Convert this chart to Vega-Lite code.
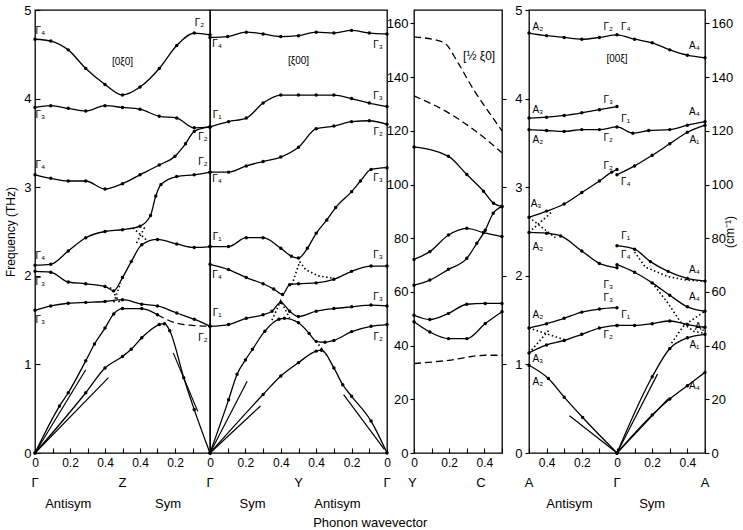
{
  "$schema": "https://vega.github.io/schema/vega-lite/v6.json",
  "padding": {"left": 4, "top": 3, "right": 2, "bottom": 2},
  "background": "white",
  "title": {"text": "Phonon wavevector", "orient": "bottom", "anchor": "middle", "fontSize": 13, "fontWeight": "normal", "offset": 6},
  "config": {
    "font": "Liberation Sans, Arial, sans-serif",
    "view": {"stroke": "#000", "strokeWidth": 1.3},
    "axis": {"domain": false, "grid": false, "tickColor": "#000", "labelColor": "#000", "labelFontSize": 12, "titleColor": "#000", "titleFontSize": 12, "titleFontWeight": "normal", "labelFlush": false, "labelOverlap": false, "tickWidth": 1.1},
    "text": {"fontSize": 10, "color": "#000"},
    "line": {"color": "#000"},
    "rule": {"color": "#000"},
    "point": {"color": "#000", "filled": true, "size": 12, "opacity": 1}
  },
  "datasets": {
    "p1": [
      {"k":"r","f":0,"f2":4.33},{"k":"r","f":4.48,"f2":5},
      {"b":"A","k":"s","q":0,"f":4.67},{"b":"A","k":"s","q":0.09,"f":4.65},{"b":"A","k":"s","q":0.19,"f":4.55},{"b":"A","k":"s","q":0.29,"f":4.34},{"b":"A","k":"s","q":0.40,"f":4.16},{"b":"A","k":"s","q":0.50,"f":4.04},{"b":"A","k":"s","q":0.60,"f":4.13},{"b":"A","k":"s","q":0.71,"f":4.34},{"b":"A","k":"s","q":0.81,"f":4.60},{"b":"A","k":"s","q":0.91,"f":4.74},{"b":"A","k":"s","q":1.0,"f":4.72},
      {"b":"B","k":"s","q":0,"f":3.90},{"b":"B","k":"s","q":0.09,"f":3.92},{"b":"B","k":"s","q":0.19,"f":3.89},{"b":"B","k":"s","q":0.29,"f":3.86},{"b":"B","k":"s","q":0.40,"f":3.92},{"b":"B","k":"s","q":0.50,"f":3.90},{"b":"B","k":"s","q":0.60,"f":3.88},{"b":"B","k":"s","q":0.71,"f":3.80},{"b":"B","k":"s","q":0.81,"f":3.78},{"b":"B","k":"s","q":0.91,"f":3.67},{"b":"B","k":"s","q":1.0,"f":3.68},
      {"b":"C","k":"s","q":0,"f":3.14},{"b":"C","k":"s","q":0.09,"f":3.10},{"b":"C","k":"s","q":0.19,"f":3.07},{"b":"C","k":"s","q":0.29,"f":3.07},{"b":"C","k":"s","q":0.40,"f":2.98},{"b":"C","k":"s","q":0.50,"f":3.04},{"b":"C","k":"s","q":0.60,"f":3.14},{"b":"C","k":"s","q":0.71,"f":3.25},{"b":"C","k":"s","q":0.80,"f":3.35},{"b":"C","k":"s","q":0.86,"f":3.49},{"b":"C","k":"s","q":0.91,"f":3.63},{"b":"C","k":"s","q":1.0,"f":3.68},
      {"b":"D","k":"s","q":0,"f":2.12},{"b":"D","k":"s","q":0.09,"f":2.13},{"b":"D","k":"s","q":0.19,"f":2.28},{"b":"D","k":"s","q":0.29,"f":2.43},{"b":"D","k":"s","q":0.40,"f":2.50},{"b":"D","k":"s","q":0.50,"f":2.52},{"b":"D","k":"s","q":0.60,"f":2.56},{"b":"D","k":"s","q":0.66,"f":2.68},{"b":"D","k":"s","q":0.69,"f":2.90},{"b":"D","k":"s","q":0.72,"f":3.03},{"b":"D","k":"s","q":0.81,"f":3.12},{"b":"D","k":"s","q":0.91,"f":3.14},{"b":"D","k":"s","q":1.0,"f":3.17},
      {"b":"E","k":"s","q":0,"f":2.05},{"b":"E","k":"s","q":0.09,"f":2.04},{"b":"E","k":"s","q":0.19,"f":1.93},{"b":"E","k":"s","q":0.29,"f":1.91},{"b":"E","k":"s","q":0.40,"f":1.88},{"b":"E","k":"s","q":0.45,"f":1.83},{"b":"E","k":"s","q":0.50,"f":1.98},{"b":"E","k":"s","q":0.55,"f":2.16},{"b":"E","k":"s","q":0.61,"f":2.35},{"b":"E","k":"s","q":0.70,"f":2.41},{"b":"E","k":"s","q":0.81,"f":2.36},{"b":"E","k":"s","q":0.91,"f":2.32},{"b":"E","k":"s","q":1.0,"f":2.33},
      {"b":"F","k":"s","q":0,"f":1.61},{"b":"F","k":"s","q":0.09,"f":1.66},{"b":"F","k":"s","q":0.19,"f":1.69},{"b":"F","k":"s","q":0.29,"f":1.70},{"b":"F","k":"s","q":0.40,"f":1.71},{"b":"F","k":"s","q":0.50,"f":1.73},{"b":"F","k":"s","q":0.61,"f":1.68},{"b":"F","k":"s","q":0.70,"f":1.66},{"b":"F","k":"s","q":0.81,"f":1.58},{"b":"F","k":"s","q":0.91,"f":1.51},{"b":"F","k":"s","q":1.0,"f":1.43},
      {"b":"G","k":"s","q":0,"f":0},{"b":"G","k":"s","q":0.14,"f":0.53},{"b":"G","k":"s","q":0.19,"f":0.68},{"b":"G","k":"s","q":0.29,"f":1.04},{"b":"G","k":"s","q":0.34,"f":1.23},{"b":"G","k":"s","q":0.40,"f":1.41},{"b":"G","k":"s","q":0.45,"f":1.57},{"b":"G","k":"s","q":0.50,"f":1.63},{"b":"G","k":"s","q":0.61,"f":1.63},{"b":"G","k":"s","q":0.70,"f":1.56},
      {"b":"G2","k":"d","q":0.70,"f":1.56},{"b":"G2","k":"d","q":0.80,"f":1.47},{"b":"G2","k":"d","q":0.90,"f":1.44},{"b":"G2","k":"d","q":1.0,"f":1.43},
      {"b":"H","k":"s","q":0,"f":0},{"b":"H","k":"s","q":0.29,"f":0.68},{"b":"H","k":"s","q":0.40,"f":0.96},{"b":"H","k":"s","q":0.50,"f":1.09},{"b":"H","k":"s","q":0.55,"f":1.17},{"b":"H","k":"s","q":0.61,"f":1.30},{"b":"H","k":"s","q":0.71,"f":1.45},{"b":"H","k":"s","q":0.74,"f":1.46},{"b":"H","k":"s","q":0.77,"f":1.38},{"b":"H","k":"s","q":0.85,"f":0.85},{"b":"H","k":"s","q":0.91,"f":0.49},{"b":"H","k":"s","q":1.0,"f":0},
      {"b":"o1","k":"o","q":0.56,"f":2.54},{"b":"o1","k":"o","q":0.64,"f":2.40},
      {"b":"o2","k":"o","q":0.58,"f":2.37},{"b":"o2","k":"o","q":0.63,"f":2.56},
      {"b":"o3","k":"o","q":0.43,"f":1.87},{"b":"o3","k":"o","q":0.49,"f":1.68},
      {"b":"o4","k":"o","q":0.45,"f":1.70},{"b":"o4","k":"o","q":0.49,"f":1.92},
      {"b":"v1","k":"v","q":0,"f":0},{"b":"v1","k":"v","q":0.29,"f":0.94},
      {"b":"v2","k":"v","q":0,"f":0},{"b":"v2","k":"v","q":0.42,"f":0.85},
      {"b":"v3","k":"v","q":0.79,"f":1.13},{"b":"v3","k":"v","q":0.93,"f":0.47}
    ],
    "p1t": [
      {"t":"Γ₄","q":0.03,"f":4.76},{"t":"Γ₂","q":0.94,"f":4.85},{"t":"Γ₃","q":0.03,"f":3.82},{"t":"Γ₂","q":0.96,"f":3.57},{"t":"Γ₄","q":0.03,"f":3.25},{"t":"Γ₂","q":0.96,"f":3.29},{"t":"Γ₄","q":0.03,"f":2.22},{"t":"Γ₃","q":0.03,"f":1.93},{"t":"Γ₃","q":0.03,"f":1.50},{"t":"Γ₂","q":0.96,"f":1.30},{"t":"[0ξ0]","q":0.5,"f":4.41}
    ],
    "p1x": [{"t":"Γ","q":0,"f":-0.34},{"t":"Z","q":0.5,"f":-0.34},{"t":"Antisym","q":0.19,"f":-0.57},{"t":"Sym","q":0.76,"f":-0.57}],
    "p2": [
      {"k":"r","f":0,"f2":4.22},{"k":"r","f":4.57,"f2":5},
      {"b":"T","k":"s","q":0,"f":4.69},{"b":"T","k":"s","q":0.10,"f":4.70},{"b":"T","k":"s","q":0.205,"f":4.75},{"b":"T","k":"s","q":0.30,"f":4.73},{"b":"T","k":"s","q":0.40,"f":4.70},{"b":"T","k":"s","q":0.50,"f":4.71},{"b":"T","k":"s","q":0.60,"f":4.75},{"b":"T","k":"s","q":0.70,"f":4.74},{"b":"T","k":"s","q":0.80,"f":4.77},{"b":"T","k":"s","q":0.90,"f":4.74},{"b":"T","k":"s","q":1.0,"f":4.73},
      {"b":"U","k":"s","q":0,"f":3.68},{"b":"U","k":"s","q":0.105,"f":3.74},{"b":"U","k":"s","q":0.205,"f":3.78},{"b":"U","k":"s","q":0.30,"f":3.95},{"b":"U","k":"s","q":0.40,"f":4.04},{"b":"U","k":"s","q":0.50,"f":4.04},{"b":"U","k":"s","q":0.60,"f":4.04},{"b":"U","k":"s","q":0.70,"f":4.04},{"b":"U","k":"s","q":0.80,"f":4.00},{"b":"U","k":"s","q":0.90,"f":3.95},{"b":"U","k":"s","q":1.0,"f":3.91},
      {"b":"V","k":"s","q":0,"f":3.17},{"b":"V","k":"s","q":0.105,"f":3.17},{"b":"V","k":"s","q":0.205,"f":3.24},{"b":"V","k":"s","q":0.30,"f":3.29},{"b":"V","k":"s","q":0.40,"f":3.34},{"b":"V","k":"s","q":0.50,"f":3.45},{"b":"V","k":"s","q":0.60,"f":3.66},{"b":"V","k":"s","q":0.70,"f":3.69},{"b":"V","k":"s","q":0.80,"f":3.74},{"b":"V","k":"s","q":0.90,"f":3.75},{"b":"V","k":"s","q":1.0,"f":3.71},
      {"b":"W","k":"s","q":0,"f":2.33},{"b":"W","k":"s","q":0.105,"f":2.33},{"b":"W","k":"s","q":0.205,"f":2.43},{"b":"W","k":"s","q":0.30,"f":2.43},{"b":"W","k":"s","q":0.40,"f":2.31},{"b":"W","k":"s","q":0.46,"f":2.22},{"b":"W","k":"s","q":0.50,"f":2.20},{"b":"W","k":"s","q":0.55,"f":2.31},{"b":"W","k":"s","q":0.60,"f":2.48},{"b":"W","k":"s","q":0.66,"f":2.63},{"b":"W","k":"s","q":0.71,"f":2.77},{"b":"W","k":"s","q":0.80,"f":2.95},{"b":"W","k":"s","q":0.85,"f":3.07},{"b":"W","k":"s","q":0.91,"f":3.20},{"b":"W","k":"s","q":1.0,"f":3.22},
      {"b":"X","k":"s","q":0,"f":2.13},{"b":"X","k":"s","q":0.105,"f":2.07},{"b":"X","k":"s","q":0.205,"f":1.98},{"b":"X","k":"s","q":0.30,"f":1.91},{"b":"X","k":"s","q":0.36,"f":1.85},{"b":"X","k":"s","q":0.41,"f":1.79},{"b":"X","k":"s","q":0.45,"f":1.90},{"b":"X","k":"s","q":0.50,"f":1.91},{"b":"X","k":"s","q":0.60,"f":1.92},{"b":"X","k":"s","q":0.70,"f":1.96},{"b":"X","k":"s","q":0.80,"f":2.05},{"b":"X","k":"s","q":0.91,"f":2.11},{"b":"X","k":"s","q":1.0,"f":2.11},
      {"b":"Y","k":"s","q":0,"f":1.43},{"b":"Y","k":"s","q":0.105,"f":1.45},{"b":"Y","k":"s","q":0.205,"f":1.52},{"b":"Y","k":"s","q":0.30,"f":1.56},{"b":"Y","k":"s","q":0.35,"f":1.60},{"b":"Y","k":"s","q":0.40,"f":1.70},{"b":"Y","k":"s","q":0.45,"f":1.60},{"b":"Y","k":"s","q":0.50,"f":1.54},{"b":"Y","k":"s","q":0.60,"f":1.60},{"b":"Y","k":"s","q":0.70,"f":1.63},{"b":"Y","k":"s","q":0.80,"f":1.65},{"b":"Y","k":"s","q":0.91,"f":1.67},{"b":"Y","k":"s","q":1.0,"f":1.66},
      {"b":"L","k":"s","q":0,"f":0},{"b":"L","k":"s","q":0.105,"f":0.60},{"b":"L","k":"s","q":0.153,"f":0.89},{"b":"L","k":"s","q":0.20,"f":1.05},{"b":"L","k":"s","q":0.24,"f":1.17},{"b":"L","k":"s","q":0.31,"f":1.375},{"b":"L","k":"s","q":0.39,"f":1.51},{"b":"L","k":"s","q":0.42,"f":1.52},{"b":"L","k":"s","q":0.50,"f":1.47},{"b":"L","k":"s","q":0.56,"f":1.35},{"b":"L","k":"s","q":0.60,"f":1.26},{"b":"L","k":"s","q":0.65,"f":1.25},{"b":"L","k":"s","q":0.70,"f":1.27},{"b":"L","k":"s","q":0.80,"f":1.37},{"b":"L","k":"s","q":0.91,"f":1.43},{"b":"L","k":"s","q":1.0,"f":1.45},
      {"b":"M","k":"s","q":0,"f":0},{"b":"M","k":"s","q":0.30,"f":0.66},{"b":"M","k":"s","q":0.40,"f":0.87},{"b":"M","k":"s","q":0.50,"f":1.02},{"b":"M","k":"s","q":0.60,"f":1.15},{"b":"M","k":"s","q":0.63,"f":1.16},{"b":"M","k":"s","q":0.70,"f":0.96},{"b":"M","k":"s","q":0.75,"f":0.77},{"b":"M","k":"s","q":0.80,"f":0.64},{"b":"M","k":"s","q":0.91,"f":0.36},{"b":"M","k":"s","q":1.0,"f":0},
      {"b":"o1","k":"o","q":0.463,"f":1.90},{"b":"o1","k":"o","q":0.507,"f":2.16},
      {"b":"o2","k":"o","q":0.507,"f":2.16},{"b":"o2","k":"o","q":0.54,"f":2.07},{"b":"o2","k":"o","q":0.61,"f":2.00},{"b":"o2","k":"o","q":0.70,"f":1.97},
      {"b":"o3","k":"o","q":0.35,"f":1.50},{"b":"o3","k":"o","q":0.40,"f":1.72},{"b":"o3","k":"o","q":0.45,"f":1.52},
      {"b":"o4","k":"o","q":0.60,"f":1.26},{"b":"o4","k":"o","q":0.66,"f":1.10},
      {"b":"v1","k":"v","q":0,"f":0},{"b":"v1","k":"v","q":0.21,"f":0.81},
      {"b":"v2","k":"v","q":0,"f":0},{"b":"v2","k":"v","q":0.285,"f":0.53},
      {"b":"v3","k":"v","q":0.755,"f":0.66},{"b":"v3","k":"v","q":0.985,"f":0.04}
    ],
    "p2t": [
      {"t":"Γ₄","q":0.04,"f":4.62},{"t":"Γ₃","q":0.95,"f":4.60},{"t":"Γ₁","q":0.04,"f":3.81},{"t":"Γ₃","q":0.95,"f":4.03},{"t":"Γ₂","q":0.95,"f":3.62},{"t":"Γ₄","q":0.04,"f":3.09},{"t":"Γ₃","q":0.95,"f":3.10},{"t":"Γ₁","q":0.04,"f":2.44},{"t":"Γ₃","q":0.95,"f":2.24},{"t":"Γ₄","q":0.04,"f":2.01},{"t":"Γ₃","q":0.95,"f":1.76},{"t":"Γ₁","q":0.04,"f":1.58},{"t":"Γ₂","q":0.95,"f":1.31},{"t":"[ξ00]","q":0.5,"f":4.43}
    ],
    "p2x": [{"t":"Γ","q":0,"f":-0.34},{"t":"Y","q":0.5,"f":-0.34},{"t":"Γ","q":1,"f":-0.34},{"t":"Sym","q":0.24,"f":-0.57},{"t":"Antisym","q":0.72,"f":-0.57}],
    "p3": [
      {"b":"a","k":"d","q":0,"f":155},{"b":"a","k":"d","q":0.167,"f":153},{"b":"a","k":"d","q":0.253,"f":145},{"b":"a","k":"d","q":0.338,"f":135.4},{"b":"a","k":"d","q":0.414,"f":128},{"b":"a","k":"d","q":0.5,"f":120},
      {"b":"b","k":"d","q":0,"f":133},{"b":"b","k":"d","q":0.196,"f":126.7},{"b":"b","k":"d","q":0.338,"f":120.5},{"b":"b","k":"d","q":0.5,"f":111.8},
      {"b":"c","k":"s","q":0,"f":114},{"b":"c","k":"s","q":0.196,"f":110.5},{"b":"c","k":"s","q":0.30,"f":103.7},{"b":"c","k":"s","q":0.395,"f":97.5},{"b":"c","k":"s","q":0.452,"f":93},{"b":"c","k":"s","q":0.5,"f":91.8},
      {"b":"d","k":"s","q":0,"f":72.1},{"b":"d","k":"s","q":0.09,"f":75},{"b":"d","k":"s","q":0.196,"f":81.2},{"b":"d","k":"s","q":0.30,"f":83.7},{"b":"d","k":"s","q":0.395,"f":82.1},{"b":"d","k":"s","q":0.5,"f":80.6},
      {"b":"e","k":"s","q":0,"f":62.5},{"b":"e","k":"s","q":0.09,"f":64.4},{"b":"e","k":"s","q":0.196,"f":68.4},{"b":"e","k":"s","q":0.30,"f":72.5},{"b":"e","k":"s","q":0.357,"f":78.1},{"b":"e","k":"s","q":0.405,"f":83},{"b":"e","k":"s","q":0.45,"f":89.3},{"b":"e","k":"s","q":0.5,"f":91.8},
      {"b":"f","k":"s","q":0,"f":51.3},{"b":"f","k":"s","q":0.09,"f":49.7},{"b":"f","k":"s","q":0.196,"f":52},{"b":"f","k":"s","q":0.30,"f":55.4},{"b":"f","k":"s","q":0.405,"f":55.7},{"b":"f","k":"s","q":0.5,"f":55.7},
      {"b":"g","k":"s","q":0,"f":48.9},{"b":"g","k":"s","q":0.09,"f":45.1},{"b":"g","k":"s","q":0.196,"f":42.6},{"b":"g","k":"s","q":0.30,"f":42.6},{"b":"g","k":"s","q":0.405,"f":48.2},{"b":"g","k":"s","q":0.5,"f":52.6},
      {"b":"h","k":"d","q":0,"f":33.3},{"b":"h","k":"d","q":0.196,"f":34.5},{"b":"h","k":"d","q":0.405,"f":36.4},{"b":"h","k":"d","q":0.5,"f":36.4}
    ],
    "p3t": [{"t":"[½ ξ0]","q":0.37,"f":148}],
    "p3x": [{"t":"Y","q":-0.01,"f":-11.2},{"t":"C","q":0.38,"f":-11.2}],
    "p4": [
      {"k":"r","f":0,"f2":4.22},{"k":"r","f":4.62,"f2":5},
      {"b":"T","k":"s","q":-0.5,"f":4.74},{"b":"T","k":"s","q":-0.4,"f":4.71},{"b":"T","k":"s","q":-0.3,"f":4.69},{"b":"T","k":"s","q":-0.2,"f":4.67},{"b":"T","k":"s","q":-0.1,"f":4.69},{"b":"T","k":"s","q":0,"f":4.72},{"b":"T","k":"s","q":0.1,"f":4.67},{"b":"T","k":"s","q":0.2,"f":4.63},{"b":"T","k":"s","q":0.3,"f":4.55},{"b":"T","k":"s","q":0.4,"f":4.49},{"b":"T","k":"s","q":0.5,"f":4.46},
      {"b":"P","k":"s","q":-0.5,"f":3.78},{"b":"P","k":"s","q":-0.4,"f":3.79},{"b":"P","k":"s","q":-0.3,"f":3.81},{"b":"P","k":"s","q":-0.2,"f":3.84},{"b":"P","k":"s","q":-0.1,"f":3.875},{"b":"P","k":"s","q":0,"f":3.91},
      {"b":"Q","k":"s","q":-0.5,"f":3.65},{"b":"Q","k":"s","q":-0.4,"f":3.64},{"b":"Q","k":"s","q":-0.3,"f":3.63},{"b":"Q","k":"s","q":-0.2,"f":3.65},{"b":"Q","k":"s","q":-0.1,"f":3.65},{"b":"Q","k":"s","q":0,"f":3.68},{"b":"Q","k":"s","q":0.09,"f":3.61},{"b":"Q","k":"s","q":0.18,"f":3.64},{"b":"Q","k":"s","q":0.30,"f":3.65},{"b":"Q","k":"s","q":0.40,"f":3.70},{"b":"Q","k":"s","q":0.5,"f":3.74},
      {"b":"R","k":"s","q":-0.5,"f":2.66},{"b":"R","k":"s","q":-0.4,"f":2.73},{"b":"R","k":"s","q":-0.3,"f":2.81},{"b":"R","k":"s","q":-0.2,"f":2.94},{"b":"R","k":"s","q":-0.1,"f":3.07},{"b":"R","k":"s","q":-0.03,"f":3.17},{"b":"R","k":"s","q":0,"f":3.20},
      {"b":"S","k":"s","q":0,"f":3.14},{"b":"S","k":"s","q":0.1,"f":3.24},{"b":"S","k":"s","q":0.2,"f":3.36},{"b":"S","k":"s","q":0.3,"f":3.49},{"b":"S","k":"s","q":0.4,"f":3.62},{"b":"S","k":"s","q":0.5,"f":3.70},
      {"b":"U","k":"s","q":-0.5,"f":2.49},{"b":"U","k":"s","q":-0.4,"f":2.48},{"b":"U","k":"s","q":-0.32,"f":2.45},{"b":"U","k":"s","q":-0.2,"f":2.28},{"b":"U","k":"s","q":-0.1,"f":2.14},{"b":"U","k":"s","q":0,"f":2.09},
      {"b":"V","k":"s","q":0,"f":2.34},{"b":"V","k":"s","q":0.1,"f":2.30},{"b":"V","k":"s","q":0.19,"f":2.16},{"b":"V","k":"s","q":0.29,"f":2.05},{"b":"V","k":"s","q":0.4,"f":1.97},{"b":"V","k":"s","q":0.5,"f":1.94},
      {"b":"W","k":"s","q":0,"f":2.125},{"b":"W","k":"s","q":0.1,"f":2.04},{"b":"W","k":"s","q":0.2,"f":1.92},{"b":"W","k":"s","q":0.3,"f":1.78},{"b":"W","k":"s","q":0.4,"f":1.65},{"b":"W","k":"s","q":0.5,"f":1.60},
      {"b":"X","k":"s","q":-0.5,"f":1.41},{"b":"X","k":"s","q":-0.4,"f":1.46},{"b":"X","k":"s","q":-0.3,"f":1.52},{"b":"X","k":"s","q":-0.2,"f":1.59},{"b":"X","k":"s","q":-0.1,"f":1.625},{"b":"X","k":"s","q":0,"f":1.64},
      {"b":"Y","k":"s","q":-0.5,"f":1.13},{"b":"Y","k":"s","q":-0.4,"f":1.22},{"b":"Y","k":"s","q":-0.3,"f":1.27},{"b":"Y","k":"s","q":-0.2,"f":1.34},{"b":"Y","k":"s","q":-0.1,"f":1.41},{"b":"Y","k":"s","q":0,"f":1.44},
      {"b":"Z","k":"s","q":0,"f":1.44},{"b":"Z","k":"s","q":0.1,"f":1.44},{"b":"Z","k":"s","q":0.2,"f":1.46},{"b":"Z","k":"s","q":0.3,"f":1.49},{"b":"Z","k":"s","q":0.4,"f":1.45},{"b":"Z","k":"s","q":0.5,"f":1.42},
      {"b":"L","k":"s","q":0,"f":0},{"b":"L","k":"s","q":0.2,"f":0.86},{"b":"L","k":"s","q":0.3,"f":1.18},{"b":"L","k":"s","q":0.4,"f":1.30},{"b":"L","k":"s","q":0.5,"f":1.34},
      {"b":"M","k":"s","q":0,"f":0},{"b":"M","k":"s","q":0.2,"f":0.43},{"b":"M","k":"s","q":0.3,"f":0.61},{"b":"M","k":"s","q":0.4,"f":0.76},{"b":"M","k":"s","q":0.5,"f":0.91},
      {"b":"N","k":"s","q":-0.5,"f":0.99},{"b":"N","k":"s","q":-0.39,"f":0.84},{"b":"N","k":"s","q":-0.3,"f":0.63},{"b":"N","k":"s","q":-0.195,"f":0.40},{"b":"N","k":"s","q":0,"f":0},
      {"b":"o1","k":"o","q":-0.5,"f":2.66},{"b":"o1","k":"o","q":-0.35,"f":2.43},
      {"b":"o2","k":"o","q":-0.5,"f":2.49},{"b":"o2","k":"o","q":-0.365,"f":2.73},
      {"b":"o3","k":"o","q":0.10,"f":2.27},{"b":"o3","k":"o","q":0.16,"f":2.10},{"b":"o3","k":"o","q":0.29,"f":1.99},{"b":"o3","k":"o","q":0.40,"f":1.95},{"b":"o3","k":"o","q":0.5,"f":1.94},
      {"b":"o4","k":"o","q":0.20,"f":1.92},{"b":"o4","k":"o","q":0.29,"f":1.69},{"b":"o4","k":"o","q":0.36,"f":1.48},{"b":"o4","k":"o","q":0.44,"f":1.37},{"b":"o4","k":"o","q":0.5,"f":1.35},
      {"b":"o5","k":"o","q":0.31,"f":1.24},{"b":"o5","k":"o","q":0.38,"f":1.44},{"b":"o5","k":"o","q":0.5,"f":1.60},
      {"b":"o6","k":"o","q":-0.5,"f":1.41},{"b":"o6","k":"o","q":-0.3,"f":1.28},
      {"b":"o7","k":"o","q":-0.5,"f":1.13},{"b":"o7","k":"o","q":-0.38,"f":1.40},
      {"b":"v1","k":"v","q":-0.27,"f":0.42},{"b":"v1","k":"v","q":0,"f":0},
      {"b":"v2","k":"v","q":0,"f":0},{"b":"v2","k":"v","q":0.23,"f":0.89},
      {"b":"v3","k":"v","q":0,"f":0},{"b":"v3","k":"v","q":0.29,"f":0.61}
    ],
    "p4t": [
      {"t":"A₂","q":-0.45,"f":4.81},{"t":"Γ₂","q":-0.05,"f":4.81},{"t":"Γ₄","q":0.05,"f":4.81},{"t":"A₄","q":0.44,"f":4.59},{"t":"[00ξ]","q":0,"f":4.45},
      {"t":"A₃","q":-0.45,"f":3.87},{"t":"Γ₃","q":-0.05,"f":3.98},{"t":"Γ₁","q":0.05,"f":3.77},{"t":"A₄","q":0.44,"f":3.85},
      {"t":"A₂","q":-0.45,"f":3.53},{"t":"Γ₂","q":-0.05,"f":3.55},{"t":"A₁","q":0.44,"f":3.53},
      {"t":"Γ₂","q":-0.05,"f":3.24},{"t":"Γ₄","q":0.05,"f":3.06},{"t":"A₃","q":-0.46,"f":2.81},{"t":"Γ₁","q":0.05,"f":2.45},
      {"t":"A₂","q":-0.45,"f":2.33},{"t":"Γ₄","q":0.05,"f":2.24},{"t":"A₄","q":0.44,"f":2.07},{"t":"Γ₃","q":-0.05,"f":1.90},
      {"t":"A₄","q":0.44,"f":1.76},{"t":"Γ₃","q":-0.05,"f":1.75},{"t":"A₂","q":-0.45,"f":1.56},{"t":"Γ₁","q":0.05,"f":1.56},
      {"t":"A₁","q":0.47,"f":1.42},{"t":"Γ₂","q":-0.05,"f":1.33},{"t":"A₁","q":0.44,"f":1.22},{"t":"A₃","q":-0.45,"f":1.06},{"t":"A₂","q":-0.45,"f":0.80},{"t":"A₄","q":0.44,"f":0.76}
    ],
    "p4x": [{"t":"A","q":-0.5,"f":-0.34},{"t":"Γ","q":0,"f":-0.34},{"t":"A","q":0.5,"f":-0.34},{"t":"Antisym","q":-0.27,"f":-0.57},{"t":"Sym","q":0.2,"f":-0.57}]
  },
  "hconcat": [
    {
      "width": 175, "height": 443,
      "data": {"name": "p1"},
      "encoding": {
        "x": {"field": "q", "type": "quantitative", "scale": {"domain": [0, 1], "nice": false, "zero": false},
              "axis": {"title": null, "values": [0,0.1,0.2,0.3,0.4,0.5,0.6,0.7,0.8,0.9,1], "tickSize": -5, "labelPadding": 9,
                       "labelExpr": "datum.value > 0.95 ? '' : (round(datum.value*10) % 2 == 1 ? '' : (datum.value < 0.01 ? '0' : format(datum.value <= 0.5 ? datum.value : 1 - datum.value, '.1f')))"}},
        "y": {"field": "f", "type": "quantitative", "scale": {"domain": [0, 5], "nice": false},
              "axis": {"title": "Frequency (THz)", "values": [0,1,2,3,4,5], "tickSize": -5, "labelPadding": 9, "labelFontSize": 13, "titlePadding": 6}}
      },
      "layer": [
        {"transform": [{"filter": "datum.k == 'r'"}], "mark": {"type": "rule", "strokeDash": [8, 4], "strokeWidth": 1.1}, "encoding": {"x": {"datum": 0.5}, "y2": {"field": "f2"}}},
        {"transform": [{"filter": "datum.k == 's'"}], "mark": {"type": "line", "interpolate": "monotone", "strokeWidth": 1.3}, "encoding": {"detail": {"field": "b"}}},
        {"transform": [{"filter": "datum.k == 'd'"}], "mark": {"type": "line", "interpolate": "monotone", "strokeWidth": 1.3, "strokeDash": [7, 4]}, "encoding": {"detail": {"field": "b"}}},
        {"transform": [{"filter": "datum.k == 'o'"}], "mark": {"type": "line", "strokeWidth": 1.6, "strokeDash": [1.5, 2.5]}, "encoding": {"detail": {"field": "b"}}},
        {"transform": [{"filter": "datum.k == 'v'"}], "mark": {"type": "line", "strokeWidth": 1.2}, "encoding": {"detail": {"field": "b"}}},
        {"transform": [{"filter": "datum.k == 's'"}], "mark": {"type": "point"}},
        {"data": {"name": "p1t"}, "mark": {"type": "text", "baseline": "middle"}, "encoding": {"text": {"field": "t"}}},
        {"data": {"name": "p1x"}, "mark": {"type": "text", "fontSize": 13, "baseline": "middle", "clip": false}, "encoding": {"text": {"field": "t"}}}
      ]
    },
    {
      "width": 177, "height": 443,
      "data": {"name": "p2"},
      "encoding": {
        "x": {"field": "q", "type": "quantitative", "scale": {"domain": [0, 1], "nice": false, "zero": false},
              "axis": {"title": null, "values": [0,0.1,0.2,0.3,0.4,0.5,0.6,0.7,0.8,0.9,1], "tickSize": -5, "labelPadding": 9,
                       "labelExpr": "round(datum.value*10) % 2 == 1 ? '' : ((datum.value < 0.01 || datum.value > 0.99) ? '0' : format(datum.value <= 0.5 ? datum.value : 1 - datum.value, '.1f'))"}},
        "y": {"field": "f", "type": "quantitative", "scale": {"domain": [0, 5], "nice": false}, "axis": null}
      },
      "layer": [
        {"transform": [{"filter": "datum.k == 'r'"}], "mark": {"type": "rule", "strokeDash": [8, 4], "strokeWidth": 1.1}, "encoding": {"x": {"datum": 0.5}, "y2": {"field": "f2"}}},
        {"transform": [{"filter": "datum.k == 's'"}], "mark": {"type": "line", "interpolate": "monotone", "strokeWidth": 1.3}, "encoding": {"detail": {"field": "b"}}},
        {"transform": [{"filter": "datum.k == 'o'"}], "mark": {"type": "line", "strokeWidth": 1.6, "strokeDash": [1.5, 2.5]}, "encoding": {"detail": {"field": "b"}}},
        {"transform": [{"filter": "datum.k == 'v'"}], "mark": {"type": "line", "strokeWidth": 1.2}, "encoding": {"detail": {"field": "b"}}},
        {"transform": [{"filter": "datum.k == 's'"}], "mark": {"type": "point"}},
        {"data": {"name": "p2t"}, "mark": {"type": "text", "baseline": "middle"}, "encoding": {"text": {"field": "t"}}},
        {"data": {"name": "p2x"}, "mark": {"type": "text", "fontSize": 13, "baseline": "middle", "clip": false}, "encoding": {"text": {"field": "t"}}}
      ]
    },
    {
      "width": 27, "height": 443, "view": {"stroke": null},
      "data": {"values": []}, "mark": "point"
    },
    {
      "width": 88, "height": 443,
      "data": {"name": "p3"},
      "resolve": {"axis": {"y": "independent"}},
      "encoding": {
        "x": {"field": "q", "type": "quantitative", "scale": {"domain": [0, 0.5], "nice": false, "zero": false},
              "axis": {"title": null, "values": [0,0.1,0.2,0.3,0.4,0.5], "tickSize": -5, "labelPadding": 9,
                       "labelExpr": "round(datum.value*10) % 2 == 1 ? '' : (datum.value < 0.01 ? '0' : format(datum.value, '.1f'))"}},
        "y": {"field": "f", "type": "quantitative", "scale": {"domain": [0, 165], "nice": false}, "axis": null}
      },
      "layer": [
        {"transform": [{"filter": "datum.k == 's'"}], "mark": {"type": "line", "interpolate": "monotone", "strokeWidth": 1.3},
         "encoding": {"detail": {"field": "b"}, "y": {"field": "f", "type": "quantitative", "axis": {"orient": "left", "title": null, "values": [0,20,40,60,80,100,120,140,160], "tickSize": 4, "labelPadding": 2, "labelFontSize": 13}}}},
        {"transform": [{"filter": "datum.k == 'd'"}], "mark": {"type": "line", "interpolate": "monotone", "strokeWidth": 1.3, "strokeDash": [7, 4]},
         "encoding": {"detail": {"field": "b"}, "y": {"field": "f", "type": "quantitative", "axis": {"orient": "right", "title": null, "values": [33,66,99,132], "tickSize": 4, "labels": false}}}},
        {"transform": [{"filter": "datum.k == 's'"}], "mark": {"type": "point"}},
        {"data": {"name": "p3t"}, "mark": {"type": "text", "fontSize": 12, "baseline": "middle"}, "encoding": {"text": {"field": "t"}}},
        {"data": {"name": "p3x"}, "mark": {"type": "text", "fontSize": 13, "baseline": "middle", "clip": false}, "encoding": {"text": {"field": "t"}}}
      ]
    },
    {
      "width": 27, "height": 443, "view": {"stroke": null},
      "data": {"values": []}, "mark": "point"
    },
    {
      "width": 176, "height": 443,
      "data": {"name": "p4"},
      "resolve": {"axis": {"y": "independent"}},
      "encoding": {
        "x": {"field": "q", "type": "quantitative", "scale": {"domain": [-0.5, 0.5], "nice": false, "zero": false},
              "axis": {"title": null, "values": [-0.5,-0.4,-0.3,-0.2,-0.1,0,0.1,0.2,0.3,0.4,0.5], "tickSize": -5, "labelPadding": 9,
                       "labelExpr": "abs(round(datum.value*10)) % 2 == 1 ? '' : (abs(datum.value) < 0.01 ? '0' : format(abs(datum.value), '.1f'))"}},
        "y": {"field": "f", "type": "quantitative", "scale": {"domain": [0, 5], "nice": false}, "axis": null}
      },
      "layer": [
        {"transform": [{"filter": "datum.k == 'r'"}], "mark": {"type": "rule", "strokeWidth": 1.3}, "encoding": {"x": {"datum": 0}, "y2": {"field": "f2"}}},
        {"transform": [{"filter": "datum.k == 's'"}], "mark": {"type": "line", "interpolate": "monotone", "strokeWidth": 1.3},
         "encoding": {"detail": {"field": "b"}, "y": {"field": "f", "type": "quantitative", "axis": {"orient": "left", "title": null, "values": [0,1,2,3,4,5], "tickSize": 4, "labelPadding": 3, "labelFontSize": 13}}}},
        {"transform": [{"filter": "datum.k == 'o'"}], "mark": {"type": "line", "strokeWidth": 1.6, "strokeDash": [1.5, 2.5]}, "encoding": {"detail": {"field": "b"}}},
        {"transform": [{"filter": "datum.k == 'v'"}], "mark": {"type": "line", "strokeWidth": 1.2}, "encoding": {"detail": {"field": "b"}}},
        {"transform": [{"filter": "datum.k == 's'"}], "mark": {"type": "point"},
         "encoding": {"y": {"field": "f", "type": "quantitative", "axis": {"orient": "right", "title": "(cm⁻¹)", "titleAngle": 270, "titlePadding": 4, "values": [0,0.60606,1.21212,1.81818,2.42424,3.0303,3.63636,4.24242,4.84848], "labelExpr": "format(datum.value*33, '.0f')", "tickSize": 4, "labelPadding": 2, "labelFontSize": 13}}}},
        {"data": {"name": "p4t"}, "mark": {"type": "text", "baseline": "middle"}, "encoding": {"text": {"field": "t"}}},
        {"data": {"name": "p4x"}, "mark": {"type": "text", "fontSize": 13, "baseline": "middle", "clip": false}, "encoding": {"text": {"field": "t"}}}
      ]
    }
  ],
  "spacing": 0, "bounds": "flush"
}
